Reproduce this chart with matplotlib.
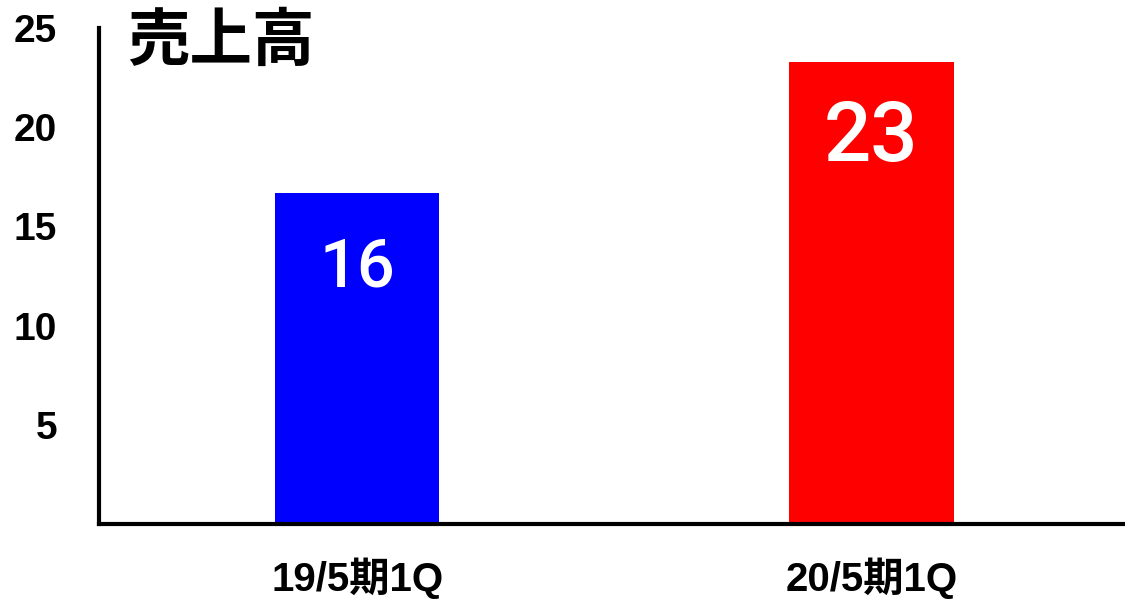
import matplotlib
matplotlib.use("Agg")
import matplotlib.pyplot as plt

plt.rcParams['font.family'] = ['Liberation Sans', 'Noto Sans CJK JP', 'DejaVu Sans']

# データ
categories = ["19/5期1Q", "20/5期1Q"]
values = [16.7, 23.3]
bar_labels = ["16", "23"]
bar_colors = ["#0000FF", "#FF0000"]
label_sizes = [48, 60]
yticks = [5, 10, 15, 20, 25]

fig = plt.figure(figsize=(11.25, 6), dpi=100)
ax = fig.add_axes([0.088, 0.127, 0.912, 0.826])

x = range(len(categories))
bars = ax.bar(x, values, width=0.32, color=bar_colors)

# 棒の中の数値
for b, lab, fs in zip(bars, bar_labels, label_sizes):
    ax.annotate(lab, (b.get_x() + b.get_width() / 2, b.get_height()),
                xytext=(0, -(50 + 0.36 * fs)), textcoords="offset points",
                ha="center", va="baseline", color="white", fontsize=fs,
                family="Roboto", fontweight="medium")

ax.set_xlim(-0.502, 1.493)
ax.set_ylim(0, 25)
ax.set_yticks(yticks)
ax.set_xticks(list(x))
ax.set_xticklabels(categories, fontsize=29, fontweight="bold")
for t in ax.get_yticklabels():
    t.set_fontsize(28)
    t.set_fontweight("bold")
ax.tick_params(length=0)
ax.tick_params(axis="y", pad=30)
ax.tick_params(axis="x", pad=24)

ax.spines["top"].set_visible(False)
ax.spines["right"].set_visible(False)
ax.spines["left"].set_linewidth(3)
ax.spines["bottom"].set_linewidth(3)

fig.text(127 / 1125, 1 - 10 / 600, "売上高", fontsize=45, fontweight="bold",
         ha="left", va="top", family="Noto Sans CJK JP")

fig.savefig("out.png", dpi=100)
